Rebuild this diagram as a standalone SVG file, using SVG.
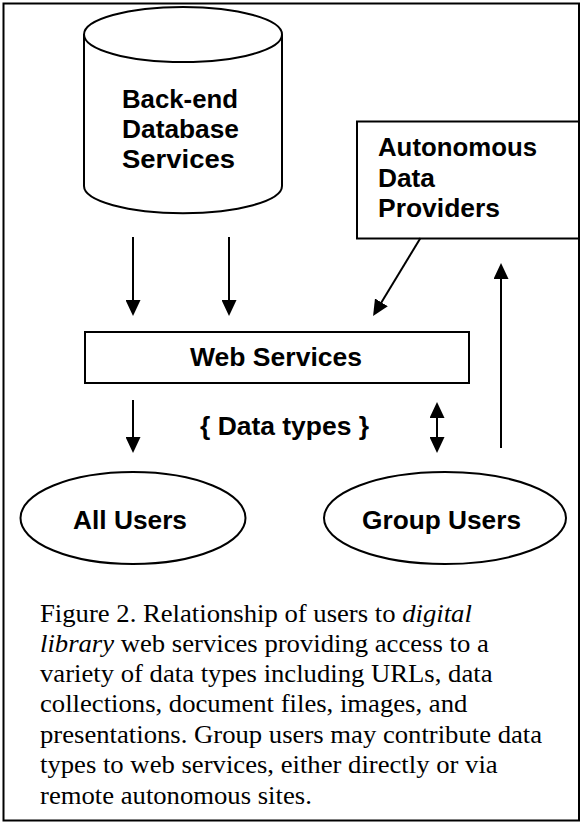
<svg xmlns="http://www.w3.org/2000/svg" width="583" height="823" viewBox="0 0 583 823">
<style>
.shape{fill:#fff;stroke:#000;stroke-width:2}
.lbl{font-family:"Liberation Sans",Arial,sans-serif;font-weight:bold;font-size:25px;fill:#000}
.cap{font-family:"Liberation Serif","Times New Roman",serif;font-size:25px;fill:#000}
.conn{stroke:#000;stroke-width:2;fill:none}
</style>
<defs>
<marker id="ah" viewBox="0 0 16 15" refX="10" refY="7.5" markerWidth="16" markerHeight="15" markerUnits="userSpaceOnUse" orient="auto-start-reverse">
<path d="M0,0 L16,7.5 L0,15 z" fill="#000"/>
</marker>
</defs>
<rect x="0" y="0" width="583" height="823" fill="#fff"/>
<rect x="3.5" y="3.5" width="575.5" height="817" fill="none" stroke="#000" stroke-width="2"/>

<g id="backend">
<path class="shape" d="M84,34.5 L84,186 A98.5,27 0 0 0 282,186 L282,34.5"/>
<ellipse class="shape" cx="183" cy="34.5" rx="99" ry="27.5"/>
<text class="lbl" x="122" y="108" textLength="116" lengthAdjust="spacingAndGlyphs">Back-end</text>
<text class="lbl" x="122" y="138" textLength="117" lengthAdjust="spacingAndGlyphs">Database</text>
<text class="lbl" x="122" y="168" textLength="113" lengthAdjust="spacingAndGlyphs">Services</text>
</g>

<g id="providers">
<rect class="shape" x="357" y="121.5" width="222" height="117"/>
<text class="lbl" x="378" y="156" textLength="159" lengthAdjust="spacingAndGlyphs">Autonomous</text>
<text class="lbl" x="378" y="187" textLength="57" lengthAdjust="spacingAndGlyphs">Data</text>
<text class="lbl" x="378" y="217" textLength="122" lengthAdjust="spacingAndGlyphs">Providers</text>
</g>

<g id="webservices">
<rect class="shape" x="85" y="332" width="384" height="51"/>
<text class="lbl" x="190" y="366" textLength="172" lengthAdjust="spacingAndGlyphs">Web Services</text>
</g>

<g id="datatypes">
<text class="lbl" x="200" y="435" textLength="169" lengthAdjust="spacingAndGlyphs">{ Data types }</text>
</g>

<g id="allusers">
<ellipse class="shape" cx="133" cy="518" rx="112.5" ry="46"/>
<text class="lbl" x="73" y="529" textLength="114" lengthAdjust="spacingAndGlyphs">All Users</text>
</g>

<g id="groupusers">
<ellipse class="shape" cx="445" cy="518" rx="121" ry="46"/>
<text class="lbl" x="362" y="529" textLength="159" lengthAdjust="spacingAndGlyphs">Group Users</text>
</g>

<g id="connectors">
<line class="conn" x1="133" y1="237" x2="133" y2="310" marker-end="url(#ah)"/>
<line class="conn" x1="229" y1="237" x2="229" y2="310" marker-end="url(#ah)"/>
<line class="conn" x1="420.5" y1="238" x2="376.2" y2="310.9" marker-end="url(#ah)"/>
<line class="conn" x1="501" y1="448" x2="501" y2="269" marker-end="url(#ah)"/>
<line class="conn" x1="133" y1="400" x2="133" y2="447" marker-end="url(#ah)"/>
<line class="conn" x1="437" y1="408" x2="437" y2="447" marker-start="url(#ah)" marker-end="url(#ah)"/>
</g>

<g id="caption" transform="translate(40,0) scale(1.067,1)">
<text class="cap" x="0" y="622">Figure 2. Relationship of users to <tspan font-style="italic">digital</tspan></text>
<text class="cap" x="0" y="652"><tspan font-style="italic">library</tspan> web services providing access to a</text>
<text class="cap" x="0" y="682">variety of data types including URLs, data</text>
<text class="cap" x="0" y="712">collections, document files, images, and</text>
<text class="cap" x="0" y="743">presentations. Group users may contribute data</text>
<text class="cap" x="0" y="773">types to web services, either directly or via</text>
<text class="cap" x="0" y="804">remote autonomous sites.</text>
</g>
</svg>
